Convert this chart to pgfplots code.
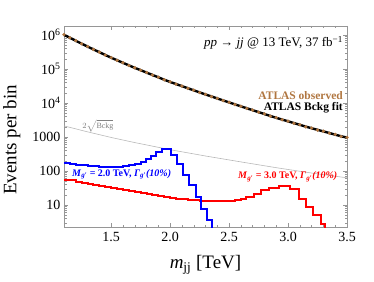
\documentclass[border=0pt]{standalone}
\usepackage{fontspec}
\setmainfont{Liberation Serif}
\usepackage{pgfplots}
\pgfplotsset{compat=1.18}
\definecolor{obsbrown}{RGB}{176,118,64}
\definecolor{framegray}{RGB}{150,150,150}
\definecolor{sqrtgray}{RGB}{185,185,185}
\begin{document}
\begin{tikzpicture}
\path[use as bounding box] (-64pt,-54pt) rectangle (310pt,227pt);
\begin{axis}[
  at={(0pt,0pt)}, anchor=south west,
  scale only axis, width=283pt, height=201pt,
  ymode=log,
  xmin=1.1, xmax=3.5, ymin=2.25, ymax=1.84e6,
  xtick={1.5,2.0,2.5,3.0,3.5},
  xticklabels={1.5,2.0,2.5,3.0,3.5},
  minor x tick num=4,
  ytick={10,100,1000,1e4,1e5,1e6},
  yticklabels={10,100,1000,10\textsuperscript{4},10\textsuperscript{5},10\textsuperscript{6}},
  minor ytick={3,4,5,6,7,8,9,20,30,40,50,60,70,80,90,200,300,400,500,600,700,800,900,2000,3000,4000,5000,6000,7000,8000,9000,20000,30000,40000,50000,60000,70000,80000,90000,2e5,3e5,4e5,5e5,6e5,7e5,8e5,9e5},
  tick label style={font=\fontsize{14}{14}\selectfont, black},
  xticklabel style={yshift=-2pt},
  label style={font=\fontsize{19}{19}\selectfont},
  xlabel={\textit{m}\textsubscript{jj} [TeV]},
  ylabel={Events per bin},
  xlabel style={at={(axis description cs:0.5,0)}, anchor=center, yshift=-38pt},
  ylabel style={at={(axis description cs:-0.184,0.433)}, anchor=center},
  axis line style={framegray},
  every tick/.style={framegray},
  major tick length=4pt, minor tick length=2.5pt,
  /pgf/number format/assume math mode=true,
]
% 2 sqrt(Bckg)
\addplot[sqrtgray, line width=0.6pt] coordinates {
(1.1,2118) (1.3,1416) (1.5,968) (1.7,685) (2.0,423) (2.3,276) (2.6,185) (2.9,125) (3.2,87) (3.5,63)};
% M = 3.0 TeV signal
\addplot[red, line width=2pt, const plot mark left] coordinates {
(1.10,56) (1.15,52.5) (1.20,49) (1.25,45.7) (1.30,42.7) (1.35,39.8) (1.40,37.2) (1.45,34.7) (1.50,32.4) (1.55,30.2) (1.60,28.2) (1.65,26.3) (1.70,24.5) (1.75,22.9) (1.80,21.4) (1.85,20.0) (1.90,18.6) (1.95,17.4) (2.00,16.2) (2.05,15.5) (2.10,14.8) (2.15,14.1) (2.20,13.6) (2.25,13.2) (2.30,12.9) (2.35,12.7) (2.40,12.7) (2.45,12.9) (2.50,13.3) (2.55,14.0) (2.60,15.1) (2.64,17.0) (2.71,21.4) (2.77,27.0) (2.84,32.4) (2.92,36.3) (3.02,29.5) (3.09,15.5) (3.15,8.7) (3.21,5.0) (3.28,2.8) (3.31,1.3) (3.37,1.3)};
% M = 2.0 TeV signal
\addplot[blue, line width=2pt, const plot mark left] coordinates {
(1.10,174) (1.15,164) (1.20,155) (1.25,148) (1.30,143) (1.35,138) (1.40,135) (1.45,133) (1.50,133) (1.55,135) (1.60,140) (1.65,148) (1.70,162) (1.75,186) (1.795,219) (1.836,269) (1.879,363) (1.935,457) (2.006,288) (2.062,166) (2.113,74) (2.161,38) (2.218,17.4) (2.26,7.8) (2.316,3.5) (2.358,1.2) (2.41,1.2)};
% ATLAS background fit
\addplot[black, line width=2.4pt] coordinates {
(1.10,1.014e6) (1.15,8.30e5) (1.20,6.78e5) (1.25,5.55e5) (1.30,4.56e5) (1.35,3.77e5) (1.40,3.12e5) (1.45,2.58e5) (1.50,2.15e5) (1.55,1.81e5) (1.60,1.52e5) (1.65,1.28e5) (1.70,1.08e5) (1.75,9.23e4) (1.80,7.85e4) (1.85,6.68e4) (1.90,5.69e4) (1.95,4.84e4) (2.00,4.16e4) (2.05,3.61e4) (2.10,3.13e4) (2.15,2.72e4) (2.20,2.36e4) (2.25,2.05e4) (2.30,1.78e4) (2.35,1.56e4) (2.40,1.36e4) (2.45,1.19e4) (2.50,1.04e4) (2.55,9.10e3) (2.60,7.98e3) (2.65,7.00e3) (2.70,6.14e3) (2.75,5.40e3) (2.80,4.73e3) (2.85,4.15e3) (2.90,3.66e3) (2.95,3.25e3) (3.00,2.89e3) (3.05,2.56e3) (3.10,2.28e3) (3.15,2.02e3) (3.20,1.81e3) (3.25,1.62e3) (3.30,1.46e3) (3.35,1.31e3) (3.40,1.17e3) (3.45,1.05e3) (3.50,9.6e2)};
% ATLAS observed
\addplot[only marks, mark=*, mark size=1.5pt, obsbrown, mark options={draw=none, fill=obsbrown}] coordinates {
(1.10,1.02e6) (1.15,8.27e5) (1.20,6.81e5) (1.25,5.53e5) (1.30,4.58e5) (1.35,3.75e5) (1.40,3.13e5) (1.45,2.57e5) (1.50,2.16e5) (1.55,1.80e5) (1.60,1.53e5) (1.65,1.27e5) (1.70,1.09e5) (1.75,9.18e4) (1.80,7.89e4) (1.85,6.64e4) (1.90,5.72e4) (1.95,4.81e4) (2.00,4.19e4) (2.05,3.59e4) (2.10,3.15e4) (2.15,2.70e4) (2.20,2.38e4) (2.25,2.03e4) (2.30,1.80e4) (2.35,1.54e4) (2.40,1.37e4) (2.45,1.18e4) (2.50,1.05e4) (2.55,9.02e3) (2.60,8.05e3) (2.65,6.92e3) (2.70,6.20e3) (2.75,5.35e3) (2.80,4.78e3) (2.85,4.10e3) (2.90,3.70e3) (2.95,3.21e3) (3.00,2.92e3) (3.05,2.53e3) (3.10,2.31e3) (3.15,1.99e3) (3.20,1.83e3) (3.25,1.60e3) (3.30,1.48e3) (3.35,1.29e3) (3.40,1.19e3) (3.45,1.03e3) (3.50,9.7e2)};
% texts
\node[anchor=east, font=\fontsize{13}{13}\selectfont, inner sep=0pt] at (rel axis cs:0.986,0.915) {\textit{pp} → \textit{jj} @ 13 TeV, 37 fb\textsuperscript{−1}};
\node[anchor=base east, font=\fontsize{11.5}{11.5}\selectfont\bfseries, text=obsbrown, inner sep=0pt] at (rel axis cs:0.986,0.632) {ATLAS observed};
\node[anchor=base east, font=\fontsize{11.5}{11.5}\selectfont\bfseries, text=black, inner sep=0pt] at (rel axis cs:0.986,0.580) {ATLAS Bckg fit};
\node[anchor=west, font=\fontsize{10}{10}\selectfont\bfseries, text=blue, inner sep=0pt] at (rel axis cs:0.028,0.262) {\textit{M}\textsubscript{\textit{g}′} = 2.0 TeV, \textit{Γ}\textsubscript{\textit{g}′}\textit{(10\%)}};
\node[anchor=west, font=\fontsize{10}{10}\selectfont\bfseries, text=red, inner sep=0pt] at (rel axis cs:0.615,0.25) {\textit{M}\textsubscript{\textit{g}′} = 3.0 TeV, \textit{Γ}\textsubscript{\textit{g}′}\textit{(10\%)}};
\node[anchor=west, font=\fontsize{8}{8}\selectfont, text=gray, inner sep=0pt] at (rel axis cs:0.064,0.502) {$2\sqrt{\mathrm{Bckg}}$};
\end{axis}
\end{tikzpicture}
\end{document}
